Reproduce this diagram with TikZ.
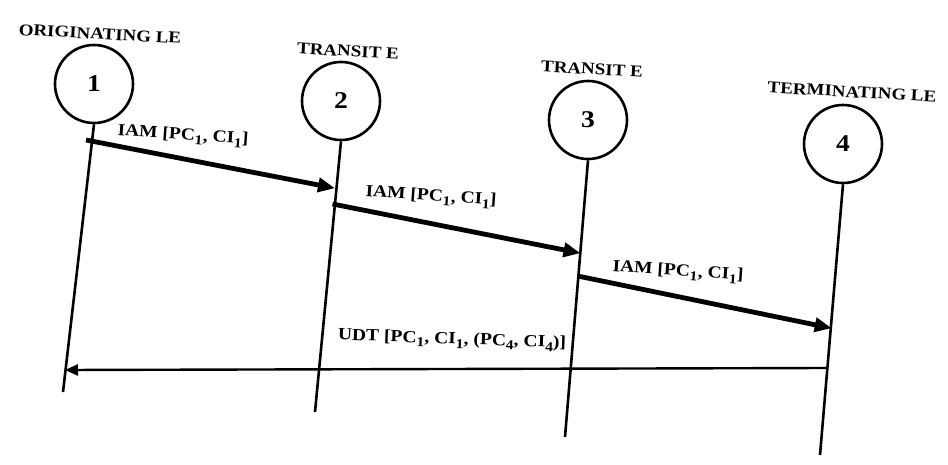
\documentclass[tikz,border=0pt]{standalone}
\usepackage{fontspec}
\setmainfont{Liberation Serif}[FakeStretch=1.15]
\usetikzlibrary{arrows.meta}
\newcommand{\lowsub}[1]{\raisebox{-0.55ex}{\scalebox{0.8}{#1}}}
\begin{document}
\begin{tikzpicture}[x=1pt,y=-1pt,
  station/.style={circle,draw,line width=2.6pt,minimum size=78pt,inner sep=0pt,font=\fontsize{24}{24}\selectfont\bfseries},
  title/.style={font=\fontsize{16.5}{17}\selectfont\bfseries,inner sep=0pt},
  msg/.style={font=\fontsize{17}{17}\selectfont\bfseries,inner sep=0pt},
  life/.style={line width=2.6pt},
  thick msg/.style={line width=4.8pt,-{Triangle[length=17pt,width=14pt]},shorten >=-1pt},
  thin msg/.style={line width=2.4pt,-{Triangle[length=13pt,width=11pt]}}]
\useasboundingbox (0,0) rectangle (948,465);
% stations
\node[station] (c1) at (94,84) {1};
\node[station] (c2) at (341,101) {2};
\node[station] (c3) at (588,120) {3};
\node[station] (c4) at (843,144) {4};
% titles
\node[title,rotate=-3] (t1) at (100,34) {ORIGINATING LE};
\node[title,rotate=-3] (t2) at (348,51) {TRANSIT E};
\node[title,rotate=-3] (t3) at (592,69) {TRANSIT E};
\node[title,rotate=-3] (t4) at (852,92) {TERMINATING LE};
% lifeline ends
\coordinate (b1) at (63,392);
\coordinate (b2) at (315,412);
\coordinate (b3) at (565,437);
\coordinate (b4) at (820,455);
\draw[life] (c1.south) -- (b1);
\draw[life] (c2.south) -- (b2);
\draw[life] (c3.south) -- (b3);
\draw[life] (c4.south) -- (b4);
% message end points
\coordinate (m1s) at (86,140);
\coordinate (m1e) at (334,188);
\coordinate (m2s) at (332.5,204);
\coordinate (m2e) at (579.5,253);
\coordinate (m3s) at (577.6,276);
\coordinate (m3e) at (830.7,328);
\coordinate (m4s) at (827.3,368);
\coordinate (m4e) at (65,370);
\draw[thick msg] (m1s) -- (m1e);
\draw[thick msg] (m2s) -- (m2e);
\draw[thick msg] (m3s) -- (m3e);
\draw[thin msg] (m4s) -- (m4e);
% labels
\node[msg,rotate=-4] (l1) at (183,136) {IAM [PC\lowsub{1}, CI\lowsub{1}]};
\node[msg,rotate=-4] (l2) at (431,197) {IAM [PC\lowsub{1}, CI\lowsub{1}]};
\node[msg,rotate=-4] (l3) at (678,272) {IAM [PC\lowsub{1}, CI\lowsub{1}]};
\node[msg,rotate=-2] (l4) at (452,340) {UDT [PC\lowsub{1}, CI\lowsub{1}, (PC\lowsub{4}, CI\lowsub{4})]};
\end{tikzpicture}
\end{document}
